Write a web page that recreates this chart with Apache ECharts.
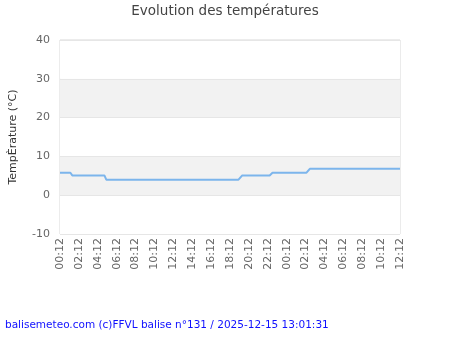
<!DOCTYPE html>
<html>
<head>
<meta charset="utf-8">
<script src="https://cdn.jsdelivr.net/npm/echarts@6/dist/echarts.min.js"></script>
<style>
  html, body { margin: 0; padding: 0; background: #fff; }
  #chart { width: 450px; height: 350px; }
</style>
</head>
<body>
<div id="chart"></div>
<script>
// Hours elapsed since 00:12 on the first day, and temperature readings (°C)
var hours = [0, 1.1, 1.3, 4.7, 4.9, 18.9, 19.3, 22.2, 22.5, 26.1, 26.45, 36];
var temps = [5.8, 5.8, 5.1, 5.1, 4.0, 4.0, 5.1, 5.1, 5.8, 5.8, 6.8, 6.8];

// Tick labels along the time axis, every two hours
var tickLabels = ['00:12','02:12','04:12','06:12','08:12','10:12','12:12','14:12','16:12',
                  '18:12','20:12','22:12','00:12','02:12','04:12','06:12','08:12','10:12','12:12'];

var titleText = 'Evolution des températures';
var yTitle = 'TempÈrature (°C)';
var footer = 'balisemeteo.com (c)FFVL balise n°131 / 2025-12-15 13:01:31';

var points = hours.map(function (h, i) { return [h, temps[i]]; });

var chart = echarts.init(document.getElementById('chart'), null, { renderer: 'canvas' });
chart.setOption({
  animation: false,
  textStyle: { fontFamily: 'DejaVu Sans' },
  title: [{
    text: titleText,
    left: 'center',
    top: -1,
    textStyle: { fontFamily: 'DejaVu Sans', fontSize: 13.5, fontWeight: 'normal', color: '#444' }
  }, {
    text: footer,
    left: 0,
    top: 315,
    textStyle: { fontFamily: 'DejaVu Sans', fontSize: 10.5, fontWeight: 'normal', color: '#1010ff' }
  }],
  grid: {
    left: 60, right: 50, top: 40, bottom: 116,
    show: true, borderColor: '#d8d8d8', borderWidth: 1, backgroundColor: 'transparent'
  },
  xAxis: {
    type: 'value',
    min: 0, max: 36, interval: 2,
    axisLine: { show: false },
    axisTick: { show: false },
    splitLine: { show: false },
    axisLabel: {
      rotate: 90,
      color: '#666',
      fontSize: 11,
      margin: 4,
      formatter: function (v) { return tickLabels[Math.round(v / 2)] || ''; }
    }
  },
  yAxis: {
    type: 'value',
    min: -10, max: 40, interval: 10,
    name: yTitle,
    nameLocation: 'middle',
    nameGap: 41,
    nameTextStyle: { color: '#333', fontSize: 11 },
    axisLine: { show: false },
    axisTick: { show: false },
    axisLabel: { color: '#666', fontSize: 11, margin: 10 },
    splitLine: { show: true, lineStyle: { color: '#e6e6e6', width: 1 } },
    splitArea: { show: true, areaStyle: { color: ['#ffffff', '#f2f2f2'] } }
  },
  series: [{
    type: 'line',
    data: points,
    showSymbol: false,
    lineStyle: { color: '#7cb5ec', width: 2 },
    itemStyle: { color: '#7cb5ec' }
  }]
});
</script>
</body>
</html>
